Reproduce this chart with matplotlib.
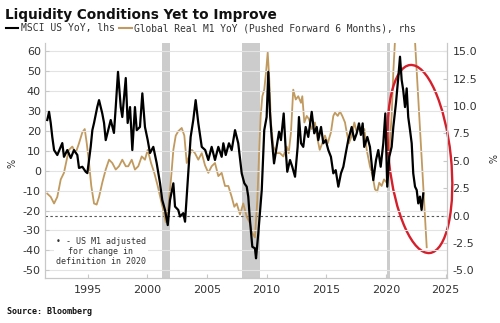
import matplotlib
matplotlib.use("Agg")
import matplotlib.pyplot as plt
from matplotlib.patches import Ellipse
from matplotlib.lines import Line2D
from matplotlib.transforms import IdentityTransform

plt.rcParams["font.family"] = ["DejaVu Sans"]
plt.rcParams["axes.unicode_minus"] = False

# MSCI US YoY (%), left axis
msci_years = [
    1991.61, 1991.76, 1991.90, 1992.03, 1992.18, 1992.45, 1992.87, 1993.01, 1993.29, 1993.58,
    1993.85, 1994.13, 1994.27, 1994.55, 1994.83, 1994.97, 1995.25, 1995.39, 1995.53, 1995.80,
    1995.95, 1996.22, 1996.37, 1996.51, 1996.79, 1996.93, 1997.20, 1997.35, 1997.54, 1997.77,
    1997.90, 1998.19, 1998.35, 1998.55, 1998.74, 1998.96, 1999.11, 1999.38, 1999.58, 1999.80,
    2000.03, 2000.22, 2000.50, 2000.78, 2001.06, 2001.25, 2001.48, 2001.71, 2001.90, 2002.18,
    2002.32, 2002.59, 2002.74, 2003.01, 2003.16, 2003.43, 2003.63, 2003.85, 2004.05, 2004.27,
    2004.56, 2004.85, 2005.11, 2005.39, 2005.67, 2005.95, 2006.23, 2006.37, 2006.57, 2006.84,
    2007.07, 2007.35, 2007.62, 2007.91, 2008.13, 2008.33, 2008.46, 2008.60, 2008.80, 2009.02,
    2009.11, 2009.30, 2009.59, 2009.80, 2010.00, 2010.14, 2010.28, 2010.42, 2010.62, 2010.84,
    2011.04, 2011.20, 2011.43, 2011.60, 2011.73, 2011.96, 2012.15, 2012.38, 2012.60, 2012.71,
    2012.88, 2013.07, 2013.27, 2013.49, 2013.78, 2013.99, 2014.20, 2014.33, 2014.56, 2014.75,
    2014.95, 2015.17, 2015.39, 2015.59, 2015.79, 2016.01, 2016.23, 2016.43, 2016.63, 2016.84,
    2017.13, 2017.35, 2017.55, 2017.74, 2017.90, 2018.05, 2018.18, 2018.44, 2018.66, 2018.94,
    2019.17, 2019.36, 2019.56, 2019.78, 2019.95, 2020.11, 2020.28, 2020.48, 2020.62, 2020.84,
    2021.04, 2021.18, 2021.32, 2021.45, 2021.60, 2021.74, 2021.87, 2022.02, 2022.16, 2022.29,
    2022.44, 2022.58, 2022.71, 2022.85, 2022.99, 2023.13,
]
msci_yoy = [
    25.5, 29.6, 24.0, 17.0, 10.4, 7.9, 13.9, 7.0, 10.4, 6.4,
    10.4, 7.9, 1.4, 2.0, -0.5, -1.2, 12.0, 20.4, 24.0, 32.0,
    35.5, 28.8, 24.0, 15.4, 22.0, 25.5, 19.0, 32.0, 49.7, 32.0,
    27.0, 46.6, 24.0, 32.0, 10.4, 32.0, 20.4, 22.0, 38.9, 22.0,
    15.4, 8.9, 12.0, 3.9, -6.2, -14.7, -19.7, -27.3, -14.7, -6.3,
    -18.0, -19.7, -23.0, -21.3, -25.6, -1.2, 17.0, 25.5, 35.5, 24.0,
    12.0, 10.4, 5.4, 12.0, 5.4, 12.0, 7.0, 13.8, 7.9, 13.8,
    10.4, 20.4, 13.8, -1.3, -6.3, -8.0, -13.0, -24.8, -38.2, -39.0,
    -44.0, -31.5, -9.7, 20.4, 27.0, 49.7, 28.8, 17.0, 3.7, 12.0,
    19.6, 15.4, 28.8, 10.4, -0.5, 5.4, 2.0, -3.0, 12.0, 27.0,
    13.8, 12.0, 22.0, 17.0, 29.6, 18.8, 22.0, 15.4, 22.0, 13.8,
    15.4, 10.4, 7.0, -1.3, 0.3, -8.0, -1.3, 2.0, 8.7, 15.4,
    22.0, 15.4, 18.8, 23.8, 18.0, 23.8, 12.0, 17.0, 12.0, -4.7,
    5.4, 10.4, 2.0, 13.8, 28.8, -8.0, 7.0, 12.0, 22.0, 33.9,
    47.2, 57.3, 45.6, 40.5, 32.0, 41.4, 27.0, 20.4, 13.8, -1.3,
    -8.0, -9.7, -16.4, -13.0, -19.7, -11.4,
]

# Global real M1 YoY (%), pushed forward 6 months, right axis
m1_years = [
    1991.61, 1991.90, 1992.18, 1992.45, 1992.74, 1993.01, 1993.24, 1993.43, 1993.71, 1993.99,
    1994.27, 1994.55, 1994.75, 1994.92, 1995.11, 1995.30, 1995.53, 1995.75, 1995.95, 1996.22,
    1996.51, 1996.79, 1997.06, 1997.35, 1997.62, 1997.90, 1998.19, 1998.40, 1998.69, 1998.96,
    1999.24, 1999.53, 1999.80, 2000.03, 2000.31, 2000.58, 2000.87, 2001.14, 2001.34, 2001.54,
    2001.76, 2001.98, 2002.18, 2002.38, 2002.59, 2002.88, 2003.10, 2003.30, 2003.49, 2003.72,
    2003.99, 2004.27, 2004.56, 2004.83, 2005.11, 2005.39, 2005.67, 2005.95, 2006.23, 2006.51,
    2006.79, 2007.07, 2007.29, 2007.49, 2007.77, 2008.04, 2008.33, 2008.60, 2008.80, 2009.02,
    2009.22, 2009.36, 2009.50, 2009.64, 2009.80, 2009.95, 2010.09, 2010.22, 2010.36, 2010.56,
    2010.84, 2011.12, 2011.40, 2011.68, 2011.85, 2012.04, 2012.23, 2012.44, 2012.65, 2012.88,
    2012.99, 2013.16, 2013.36, 2013.55, 2013.78, 2014.05, 2014.28, 2014.45, 2014.66, 2014.89,
    2015.12, 2015.39, 2015.59, 2015.73, 2015.96, 2016.15, 2016.34, 2016.57, 2016.71, 2016.90,
    2017.13, 2017.35, 2017.55, 2017.74, 2017.97, 2018.19, 2018.39, 2018.66, 2018.89, 2019.08,
    2019.27, 2019.44, 2019.64, 2019.84, 2020.06, 2020.28, 2020.48, 2020.62, 2020.76, 2020.95,
    2021.25, 2021.55, 2021.85, 2022.15, 2022.44, 2023.42,
]
m1_yoy = [
    2.0, 1.7, 1.1, 1.7, 3.3, 3.9, 5.1, 6.0, 6.3, 5.7,
    6.6, 7.6, 7.9, 6.6, 4.8, 2.7, 1.1, 1.0, 1.7, 3.0,
    4.2, 5.1, 4.8, 4.2, 4.5, 5.1, 4.5, 4.5, 5.1, 4.2,
    4.5, 5.4, 5.1, 6.0, 4.8, 3.9, 2.7, 1.4, 0.5, -0.6,
    0.8, 3.3, 6.0, 7.3, 7.7, 8.0, 7.3, 4.8, 5.4, 6.0,
    5.7, 5.1, 5.7, 4.6, 3.9, 4.5, 4.8, 3.6, 3.9, 2.7,
    2.7, 1.7, 0.8, 1.1, 0.1, 1.1, -0.1, -0.7, -1.6, -2.0,
    1.4, 5.4, 9.1, 10.9, 11.5, 13.1, 14.9, 12.5, 8.5, 6.3,
    5.7, 5.7, 5.4, 6.3, 5.7, 7.6, 11.5, 10.6, 10.9, 10.3,
    10.9, 8.5, 9.1, 8.8, 7.9, 8.5, 6.9, 6.0, 6.6, 7.3,
    6.6, 7.6, 9.1, 9.4, 9.1, 9.5, 9.1, 8.5, 7.6, 6.6,
    7.3, 8.5, 7.6, 8.2, 7.6, 7.9, 6.0, 4.5, 3.6, 2.4,
    2.2, 3.0, 2.7, 3.3, 3.0, 6.0, 9.1, 13.1, 16.0, 19.0,
    22.0, 23.0, 22.0, 19.0, 15.9, -2.9,
]

recessions = [(2001.2, 2001.88), (2007.93, 2009.47), (2020.12, 2020.3)]
x_ticks = [1995, 2000, 2005, 2010, 2015, 2020, 2025]
left_ticks = list(range(-50, 61, 10))
right_ticks = [-5.0, -2.5, 0.0, 2.5, 5.0, 7.5, 10.0, 12.5, 15.0]

BLACK = "#000000"
TAN = "#c19a5f"
GRID = "#e3e3e3"
SPINE = "#c8c8c8"
SHADE = "#cccccc"
TXT = "#333333"

fig = plt.figure(figsize=(5.0, 3.23), dpi=100)
ax = fig.add_axes([0.09, 0.1393, 0.804, 0.7276])
ax2 = ax.twinx()

# the lhs axes sits on top so the MSCI line is drawn above the M1 line
ax.set_zorder(ax2.get_zorder() + 1)
ax.patch.set_visible(False)

for x0, x1 in recessions:
    ax2.axvspan(x0, x1, color=SHADE, lw=0, zorder=0)
ax2.axhline(0, color="#555555", lw=0.8, ls=(0, (2.2, 2.2)), zorder=1)

ax2.plot(m1_years, m1_yoy, color=TAN, lw=1.3, zorder=2)
ax.plot(msci_years, msci_yoy, color=BLACK, lw=1.6, zorder=3)

ax.set_xlim(1991.42, 2025.12)
ax.set_ylim(-53.9, 64.2)
ax2.set_ylim((-53.9 + 22.5) / 5.5, (64.2 + 22.5) / 5.5)

ax.set_xticks(x_ticks)
ax.set_yticks(left_ticks)
ax2.set_yticks(right_ticks)
ax2.set_yticklabels([f"{v:.1f}" for v in right_ticks])

ax.grid(axis="y", color=GRID, lw=0.8)
ax.set_axisbelow(True)

for a in (ax, ax2):
    for side, sp in a.spines.items():
        sp.set_color(SPINE)
        sp.set_linewidth(0.8)
    a.spines["top"].set_visible(False)

ax.tick_params(axis="y", direction="in", length=3, color=SPINE, labelsize=8,
               labelcolor=TXT, pad=3)
ax.tick_params(axis="x", direction="in", length=3, color=SPINE, labelsize=8,
               labelcolor=TXT, pad=5)
ax2.tick_params(axis="y", direction="in", length=3, color=SPINE, labelsize=8,
                labelcolor=TXT, pad=4)

# axis unit labels
fig.text(0.024, 0.495, "%", rotation=90, ha="center", va="center", fontsize=7, color=TXT)
fig.text(0.98, 0.508, "%", rotation=-90, ha="center", va="center", fontsize=7, color=TXT)

# footnote box
ax.text(1996.1, -33.3, "\u2022 - US M1 adjusted\nfor change in\ndefinition in 2020",
        ha="center", va="top", multialignment="center", fontsize=6,
        family="DejaVu Sans Mono", color=TXT, linespacing=1.15,
        bbox=dict(facecolor="white", edgecolor="none", pad=1.5), zorder=5)

# title and legend line
fig.text(0.01, 0.955, "Liquidity Conditions Yet to Improve", fontsize=9.8,
         fontweight="bold", ha="left", va="center", color="#111111")
fig.add_artist(Line2D([0.012, 0.036], [0.913, 0.913], color=BLACK, lw=1.5))
fig.text(0.042, 0.913, "MSCI US YoY, lhs", fontsize=7, family="DejaVu Sans Mono",
         ha="left", va="center", color=TXT)
fig.add_artist(Line2D([0.238, 0.263], [0.913, 0.913], color=TAN, lw=1.5))
fig.text(0.267, 0.913, "Global Real M1 YoY (Pushed Forward 6 Months), rhs", fontsize=6.9,
         family="DejaVu Sans Mono", ha="left", va="center", color=TXT)

fig.text(0.014, 0.037, "Source: Bloomberg", fontsize=6, family="DejaVu Sans Mono",
         fontweight="bold", ha="left", va="center", color="#111111")

# highlight ring around the recent divergence
cx, cy = ax.transData.transform((2022.85, 5.9))
ring = Ellipse((cx, cy), 62, 189, angle=6, fill=False, edgecolor="#d51f2b", lw=1.7,
               transform=IdentityTransform())
fig.add_artist(ring)

fig.savefig("out.png", dpi=100)
